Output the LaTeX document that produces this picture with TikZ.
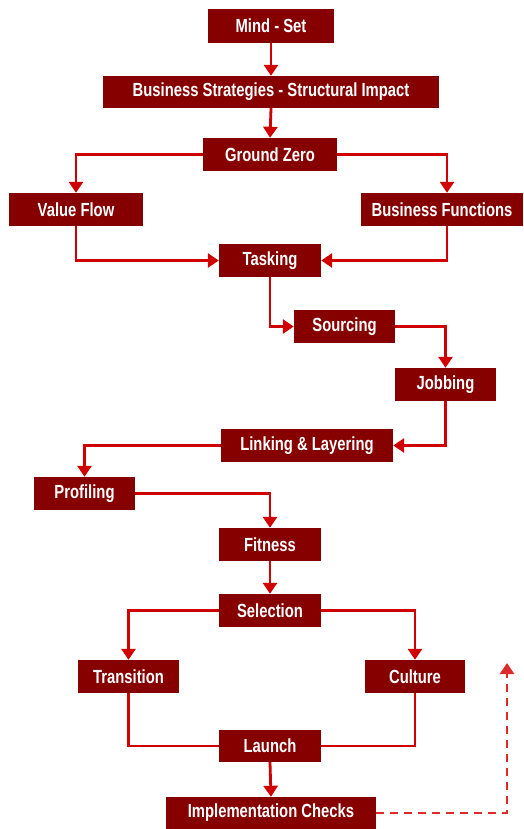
\documentclass[tikz,border=0pt]{standalone}
\usepackage{fontspec}
\setmainfont{Liberation Sans}[FakeStretch=0.78]
\usetikzlibrary{arrows.meta,calc}
\definecolor{boxred}{HTML}{860000}
\definecolor{linered}{HTML}{D00000}
\definecolor{dashred}{HTML}{DD2A2A}
\begin{document}
\begin{tikzpicture}[x=1pt,y=-1pt,
  box/.style={fill=boxred,draw=none,text=white,inner sep=0pt,
    font=\fontsize{19}{21}\selectfont\bfseries,minimum height=33pt},
  link/.style={draw=linered,line width=2.8pt},
  arr/.style={link,-{Triangle[width=14pt,length=11pt]}},
  darr/.style={draw=dashred,line width=2.8pt,dash pattern=on 8pt off 6pt,
    -{Triangle[width=14pt,length=11pt]}}]
\useasboundingbox (0,0) rectangle (524,829);
\node[box,minimum width=126pt,minimum height=34pt] (mind) at (271,26) {Mind - Set};
\node[box,minimum width=336pt,minimum height=32pt] (bs) at (271,92) {Business Strategies - Structural Impact};
\node[box,minimum width=134pt] (gz) at (270,154.5) {Ground Zero};
\node[box,minimum width=134pt] (vf) at (76,209.5) {Value Flow};
\node[box,minimum width=162pt] (bf) at (442,209.5) {Business Functions};
\node[box,minimum width=102pt] (task) at (270,260.5) {Tasking};
\node[box,minimum width=101pt] (src) at (344.5,326.5) {Sourcing};
\node[box,minimum width=101pt] (job) at (445.5,384.5) {Jobbing};
\node[box,minimum width=172pt] (lnk) at (307,445.5) {Linking \& Layering};
\node[box,minimum width=101pt] (prof) at (84.5,493.5) {Profiling};
\node[box,minimum width=102pt] (fit) at (270,544.5) {Fitness};
\node[box,minimum width=102pt] (sel) at (270,610.5) {Selection};
\node[box,minimum width=101pt] (trans) at (128.5,676.5) {Transition};
\node[box,minimum width=100pt] (cult) at (415,676.5) {Culture};
\node[box,minimum width=102pt,minimum height=32pt] (launch) at (270,746) {Launch};
\node[box,minimum width=210pt,minimum height=32pt] (impl) at (271,813) {Implementation Checks};
\coordinate (ret) at (507,663);

\draw[arr] (mind.south) -- (bs.north);
\draw[arr] (bs.south) -- (gz.north);
\draw[arr] (gz.west) -| (vf.north);
\draw[arr] (gz.east) -| ([xshift=5pt]bf.north);
\draw[arr] (vf.south) |- (task.west);
\draw[arr] ([xshift=5pt]bf.south) |- (task.east);
\draw[arr] (task.south) |- (src.west);
\draw[arr] (src.east) -| (job.north);
\draw[arr] (job.south) |- (lnk.east);
\draw[arr] (lnk.west) -| (prof.north);
\draw[arr] (prof.east) -| (fit.north);
\draw[arr] (fit.south) -- (sel.north);
\draw[arr] (sel.west) -| (trans.north);
\draw[arr] (sel.east) -| (cult.north);
\draw[link] (trans.south) |- (launch.west);
\draw[link] (cult.south) |- (launch.east);
\draw[arr] (launch.south) -- (impl.north);
\draw[darr] (impl.east) -| (ret);
\end{tikzpicture}
\end{document}
